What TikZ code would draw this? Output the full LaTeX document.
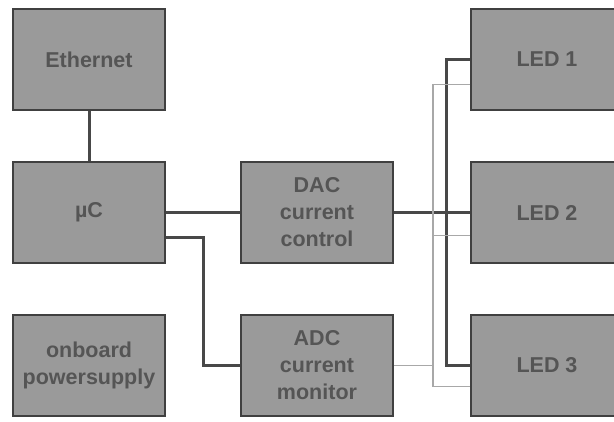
\documentclass[tikz,border=0pt]{standalone}
\usepackage{fontspec}
\setsansfont{Liberation Sans}
\usepackage{xcolor}
\usetikzlibrary{positioning,calc}
\definecolor{boxfill}{HTML}{9A9A9A}
\definecolor{boxline}{HTML}{404040}
\definecolor{boxtext}{HTML}{555555}
\definecolor{wire}{HTML}{484848}
\definecolor{sense}{HTML}{A8A8A8}

\begin{document}
\begin{tikzpicture}[
  x=1pt,y=1pt,
  node distance=50pt and 74pt,
  block/.style={draw=boxline,line width=2.4pt,fill=boxfill,minimum width=151.6pt,
                minimum height=100.6pt,align=center,text=boxtext,
                font=\sffamily\bfseries\fontsize{21.5}{27}\selectfont},
  bus/.style={wire,line width=3pt},
  sns/.style={sense,line width=1.3pt}
]
  \useasboundingbox (0,0) rectangle (614,-421);
  \node[block] (eth) at (89,-59.5) {Ethernet};
  \node[block,below=of eth] (uc) {µC};
  \node[block,below=of uc] (psu) {onboard\\powersupply};
  \node[block,right=of uc] (dac) {DAC\\current\\control};
  \node[block,right=of psu] (adc) {ADC\\current\\monitor};
  \node[block,right=76pt of dac] (led2) {LED 2};
  \node[block,above=of led2] (led1) {LED 1};
  \node[block,below=of led2] (led3) {LED 3};
  % control path
  \draw[bus] (eth) -- (uc);
  \draw[bus] (uc.east) -- (dac.west);
  \coordinate (ucOut) at ($(uc.east)+(0,-25)$);
  \draw[bus] (ucOut) -| (203,-300) |- (adc.west);
  \draw[bus] (dac.east) -- (led2.west);
  \coordinate (busX) at (446,0);
  \draw[bus] (led1.west) -| (busX |- led3.west) -- (led3.west);
  % current sense return
  \coordinate (snsX) at (433,0);
  \coordinate (sns1) at ($(led1.west)+(0,-25)$);
  \coordinate (sns2) at ($(led2.west)+(0,-23)$);
  \coordinate (sns3) at ($(led3.west)+(0,-21)$);
  \draw[sns] (sns1) -| (snsX |- sns3) -- (sns3);
  \draw[sns] (snsX |- sns2) -- (sns2);
  \draw[sns] (adc.east) -- (snsX |- adc.east);
\end{tikzpicture}
\end{document}
